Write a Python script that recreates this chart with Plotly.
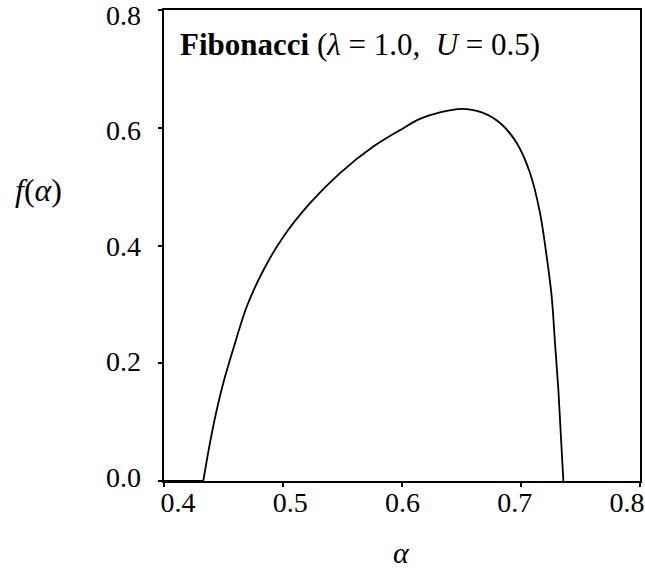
import plotly.graph_objects as go

# f(alpha) spectrum
alpha = [0.433, 0.438, 0.4437, 0.4499, 0.4583, 0.4695, 0.4835, 0.5003, 0.5227,
         0.5479, 0.5759, 0.5983, 0.6151, 0.6319, 0.6501, 0.6670, 0.6824, 0.6964,
         0.7076, 0.7160, 0.7216, 0.7258, 0.7286, 0.7314, 0.7356]
f_alpha = [0.0, 0.058, 0.115, 0.167, 0.225, 0.296, 0.358, 0.415, 0.472,
           0.523, 0.568, 0.596, 0.615, 0.626, 0.632, 0.626, 0.608, 0.574,
           0.523, 0.455, 0.381, 0.313, 0.234, 0.155, 0.0]
# flat part of the curve along f = 0 before the spectrum starts
base_alpha = [0.400, 0.433]
base_f = [0.0, 0.0]

x_ticks = [0.4, 0.5, 0.6, 0.7, 0.8]
y_ticks = [0.0, 0.2, 0.4, 0.6, 0.8]
x_labels = ["0.4", "0.5", "0.6", "0.7", "0.8"]
y_labels = ["0.0", "0.2", "0.4", "0.6", "0.8"]

SERIF = "Liberation Serif, DejaVu Serif, serif"
TICK_SIZE = 28

fig = go.Figure()
fig.add_trace(go.Scatter(x=base_alpha, y=base_f, mode="lines",
                         line=dict(color="black", width=1.8),
                         showlegend=False, hoverinfo="skip"))
fig.add_trace(go.Scatter(x=alpha, y=f_alpha, mode="lines",
                         line=dict(color="black", width=1.8, shape="spline", smoothing=0.9),
                         showlegend=False, hoverinfo="skip"))
# empty trace so the label axes get their own overlaid subplot
fig.add_trace(go.Scatter(x=[], y=[], xaxis="x2", yaxis="y2", showlegend=False, hoverinfo="skip"))

frame = dict(showgrid=False, zeroline=False, showline=True, linecolor="black",
             linewidth=2, mirror=True, ticks="outside", ticklen=4, tickwidth=2,
             tickcolor="black", showticklabels=False, automargin=False)
# labels in the original sit a little off the ticks (typeset by hand),
# so they go on overlaid axes with a slightly wider range
labels = dict(showgrid=False, zeroline=False, showline=False, ticks="",
              automargin=False, ticklabeloverflow="allow",
              tickfont=dict(family=SERIF, size=TICK_SIZE, color="black"))

fig.update_layout(
    width=645, height=569,
    margin=dict(l=164, r=5, t=10, b=88),
    paper_bgcolor="white", plot_bgcolor="white",
    font=dict(family=SERIF, size=TICK_SIZE, color="black"),
    xaxis=dict(range=[0.4, 0.8], tickvals=x_ticks, **frame),
    yaxis=dict(range=[0, 0.8], tickvals=y_ticks, **frame),
    xaxis2=dict(range=[0.3875, 0.8116], tickvals=x_ticks, ticktext=x_labels,
                overlaying="x", anchor="y", side="bottom", ticklabelstandoff=2, **labels),
    yaxis2=dict(range=[-0.0069, 0.8087], tickvals=y_ticks, ticktext=y_labels,
                overlaying="y", anchor="x", side="left", ticklabelstandoff=22, **labels),
    annotations=[
        dict(text="<b>Fibonacci</b> (<i>λ</i> = 1.0,  <i>U</i> = 0.5)", xref="paper", yref="paper",
             x=0.03, y=0.926, xanchor="left", yanchor="middle", showarrow=False,
             font=dict(family=SERIF, size=31)),
        dict(text="<i>f</i>(<i>α</i>)", xref="paper", yref="paper", x=-0.317, y=0.617,
             xanchor="left", yanchor="middle", showarrow=False, font=dict(family=SERIF, size=32)),
        dict(text="<i>α</i>", xref="paper", yref="paper", x=0.498, y=-0.152,
             xanchor="center", yanchor="middle", showarrow=False, font=dict(family=SERIF, size=30)),
    ],
)

# drop the default 8px page margin so the figure fills the window exactly
fig.write_html("out.html", config={"displayModeBar": False},
               post_script="document.body.style.margin = '0';")
